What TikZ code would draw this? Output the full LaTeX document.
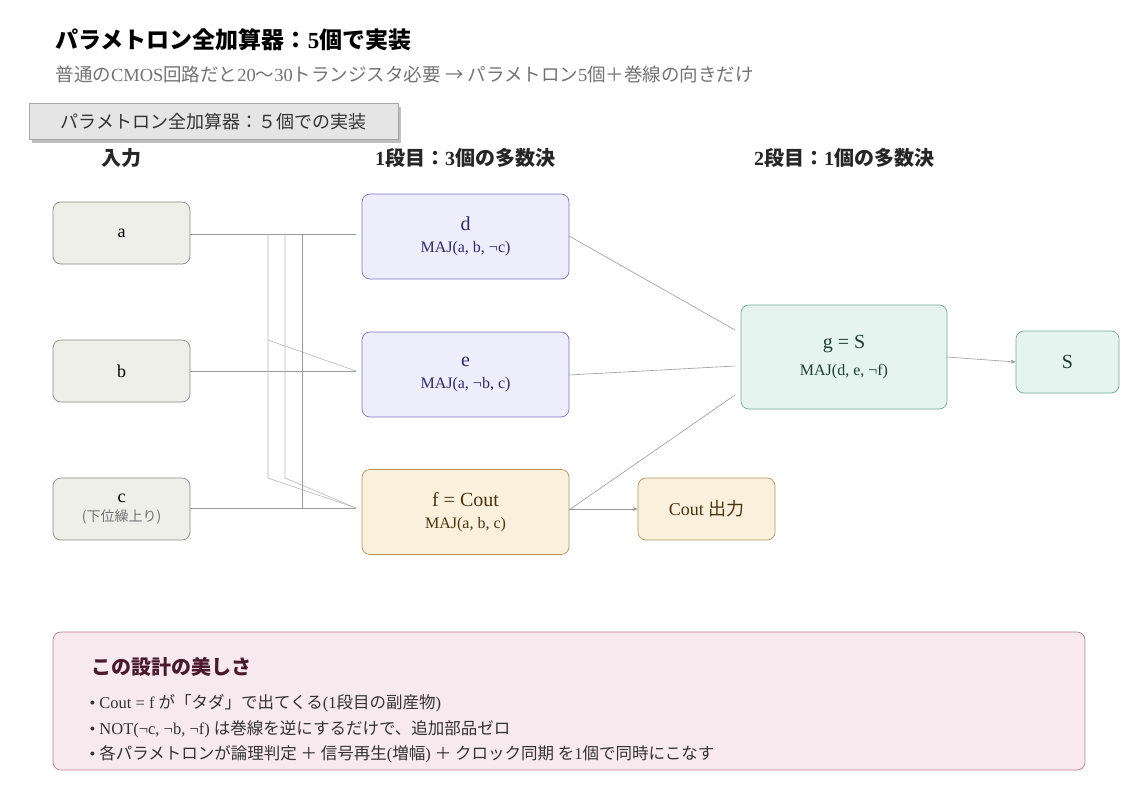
\documentclass[tikz,border=0pt]{standalone}
\usepackage{fontspec}
\setmainfont{Liberation Serif}
\newfontfamily\jp{Noto Sans CJK JP}
\usetikzlibrary{arrows.meta}
\definecolor{inF}{HTML}{EFEFEA}\definecolor{inD}{HTML}{8A8A85}
\definecolor{puF}{HTML}{EDEDFB}\definecolor{puD}{HTML}{7D72C6}\definecolor{puT}{HTML}{2E2A6B}
\definecolor{orF}{HTML}{FAF0DC}\definecolor{orD}{HTML}{B8955A}\definecolor{orT}{HTML}{4A3410}
\definecolor{grF}{HTML}{E5F4EE}\definecolor{grD}{HTML}{6FAF99}\definecolor{grT}{HTML}{1D3F33}
\definecolor{pkF}{HTML}{F8E9EE}\definecolor{pkD}{HTML}{B58093}\definecolor{pkT}{HTML}{4A1A2C}
\definecolor{wire}{HTML}{9A9A9A}
\begin{document}
\begin{tikzpicture}[x=1pt,y=-1pt,
  box/.style={rounded corners=8pt,line width=0.7pt,align=center,inner sep=0pt},
  w/.style={draw=wire,line width=0.6pt},
  wl/.style={draw=wire!70,line width=0.6pt},
  arr/.style={w,-{Stealth[length=5pt,width=4pt]}},
  hd/.style={font=\bfseries\fontsize{20}{24}\selectfont,text=black!85}]
\useasboundingbox (0,0) rectangle (1148,806);
\fill[white] (0,0) rectangle (1148,806);
\node[anchor=west,font=\bfseries\fontsize{23}{26}\selectfont] (t) at (52,40) {{\jp\bfseries パラメトロン全加算器：}5{\jp\bfseries 個で実装}};
\node[anchor=west,font=\fontsize{18.5}{22}\selectfont,text=black!55] (st) at (52,74) {{\jp 普通の}CMOS{\jp 回路だと}20{\jp 〜}30{\jp トランジスタ必要 → パラメトロン}5{\jp 個＋巻線の向きだけ}};
\fill[black!25] (32,107) rectangle (401,143);
\node[draw=black!35,fill=black!10,minimum width=369pt,minimum height=36pt,inner sep=0pt,font=\jp\fontsize{18}{20}\selectfont,text=black!80] (tag) at (213.5,121.5) {パラメトロン全加算器：５個での実装};
\node[hd] (h1) at (121,158) {\jp\bfseries 入力};
\node[hd] (h2) at (465,158) {1{\jp\bfseries 段目：}3{\jp\bfseries 個の多数決}};
\node[hd] (h3) at (844,158) {2{\jp\bfseries 段目：}1{\jp\bfseries 個の多数決}};
\tikzset{inb/.style={box,draw=inD,fill=inF,minimum width=137pt,minimum height=62pt,font=\fontsize{18}{20}\selectfont}}
\node[inb] (a) at (121.5,233) {a};
\node[inb] (b) at (121.5,371) {b};
\node[inb] (c) at (121.5,509) {c\\[-1pt]{\jp\fontsize{14}{16}\selectfont\color{black!55}(下位繰上り)}};
\tikzset{st/.style={box,minimum width=207pt,minimum height=85pt}}
\node[st,draw=puD,fill=puF,text=puT] (d) at (465.5,236.5) {{\fontsize{20}{22}\selectfont d}\\[10pt]{\fontsize{16}{18}\selectfont MAJ(a, b, ¬c)}};
\node[st,draw=puD,fill=puF,text=puT] (e) at (465.5,374.5) {{\fontsize{20}{22}\selectfont e}\\[10pt]{\fontsize{16}{18}\selectfont MAJ(a, ¬b, c)}};
\node[st,draw=orD,fill=orF,text=orT] (f) at (465.5,512) {{\fontsize{20}{22}\selectfont f = Cout}\\[10pt]{\fontsize{16}{18}\selectfont MAJ(a, b, c)}};
\node[box,draw=grD,fill=grF,text=grT,minimum width=206pt,minimum height=104pt] (g) at (844,357) {{\fontsize{20}{22}\selectfont g = S}\\[10pt]{\fontsize{16}{18}\selectfont MAJ(d, e, ¬f)}};
\node[box,draw=grD,fill=grF,text=grT,minimum width=103pt,minimum height=62pt,font=\fontsize{20}{22}\selectfont] (S) at (1067.5,362) {S};
\node[box,draw=orD,fill=orF,text=orT,minimum width=137pt,minimum height=62pt,font=\fontsize{18}{22}\selectfont] (co) at (706.5,509) {Cout {\jp 出力}};
% wires
\coordinate (dl) at (356,234);\coordinate (el) at (356,371);\coordinate (fl) at (356,508);
\draw[w] (a.east|-dl) -- (dl);
\draw[w] (b.east|-el) -- (el);
\draw[w] (c.east|-fl) -- (fl);
\draw[wl] (268,234) -- (268,478) -- (fl);
\draw[wl] (268,340) -- (el);
\draw[wl] (285,234) -- (285,478) -- (fl);
\draw[w] (302,234) -- (302,508);
\draw[w] (569,236) -- (735,330);
\draw[w] (569,375) -- (735,366);
\draw[w] (569,510) -- (735,395);
\draw[arr] (f.east|-co) -- (co.west);
\draw[arr] (947,357) -- (S.west);
% bottom
\node[box,draw=pkD,fill=pkF,minimum width=1032pt,minimum height=138pt] (bot) at (569,701) {};
\node[anchor=west,text=pkT,font=\jp\bfseries\fontsize{20}{24}\selectfont] (bt) at (88,667) {この設計の美しさ};
\node[anchor=west,text=black!80,font=\fontsize{16.5}{18}\selectfont] (l1) at (86,703) {• Cout = f {\jp が「タダ」で出てくる}(1{\jp 段目の副産物})};
\node[anchor=west,text=black!80,font=\fontsize{16.5}{18}\selectfont] (l2) at (86,729) {• NOT(¬c, ¬b, ¬f) {\jp は巻線を逆にするだけで、追加部品ゼロ}};
\node[anchor=west,text=black!80,font=\fontsize{16.5}{18}\selectfont] (l3) at (86,754) {• {\jp 各パラメトロンが論理判定 ＋ 信号再生}({\jp 増幅}) {\jp ＋ クロック同期 を}1{\jp 個で同時にこなす}};
\end{tikzpicture}
\end{document}
